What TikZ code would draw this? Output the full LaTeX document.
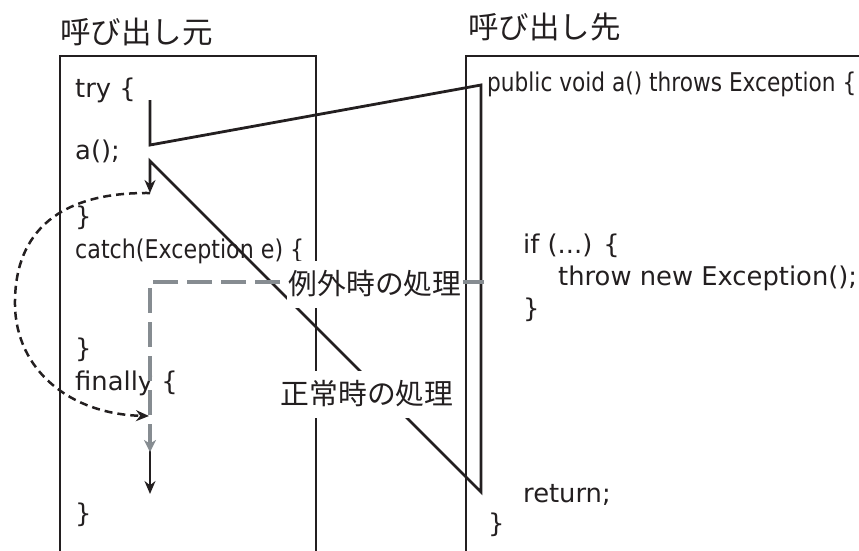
\documentclass[tikz,border=0pt]{standalone}
\usepackage{fontspec}
\usepackage{graphicx}
\setmainfont{DejaVu Sans}
\newfontfamily\jp{Noto Sans CJK JP}
\usetikzlibrary{arrows.meta}
\definecolor{ink}{HTML}{231F20}
\definecolor{exgray}{HTML}{868C91}
\begin{document}
\begin{tikzpicture}[x=1pt,y=-1pt,
  codetext/.style={anchor=base west, inner sep=0pt, font=\fontsize{25.8}{30}\selectfont, text=ink},
  hdrtext/.style={anchor=west, inner sep=0pt, font=\jp\fontsize{30.5}{34}\selectfont, text=ink},
  flowlabel/.style={fill=white, inner xsep=2pt, inner ysep=0pt, minimum height=47pt, font=\jp\fontsize{28.8}{32}\selectfont, text=ink},
  boxline/.style={draw=ink, line width=2.9pt},
  flowline/.style={draw=ink, line width=2.8pt, line join=miter},
  jumpline/.style={draw=ink, line width=2.5pt, dash pattern=on 8pt off 5pt},
  exline/.style={draw=exgray, line width=3.3pt, dash pattern=on 25pt off 9pt},
  tip/.style={-{Stealth[length=13pt,width=11pt]}},
]
\useasboundingbox (0,0) rectangle (859,550);

% titles
\node[hdrtext] (t1) at (60,32) {呼び出し元};
\node[hdrtext] (t2) at (468,27) {呼び出し先};

% frames
\draw[boxline] (60,553) -- (60,56) -- (316,56) -- (316,553);
\draw[boxline] (466,553) -- (466,56) -- (865,56);

% caller code
\node[codetext] (ltry) at (75,97) {try \{};
\node[codetext] (lcall) at (75,159) {a();};
\node[codetext] (lend1) at (75,225) {\}};
\node[codetext] (lcatch) at (75,258) {\scalebox{0.86}[1]{catch(Exception e) \{}};
\node[codetext] (lend2) at (75,357) {\}};
\node[codetext] (lfin) at (75,390) {finally \{};
\node[codetext] (lend3) at (75,522) {\}};

% callee code
\node[codetext] (rdecl) at (487,91) {\scalebox{0.84}[1]{public void a() throws Exception \{}};
\node[codetext] (rif) at (523,253) {if (...) \{};
\node[codetext] (rthrow) at (558,285) {throw new Exception();};
\node[codetext] (rend1) at (523,317) {\}};
\node[codetext] (rret) at (523,502) {return;};
\node[codetext] (rend2) at (488,532) {\}};

% flow points
\coordinate (tryA) at (150,100);
\coordinate (callB) at (150,145);
\coordinate (entry) at (481,85);
\coordinate (exitR) at (481,492);
\coordinate (retA) at (150,161);
\coordinate (after) at (150,193);
\coordinate (fin) at (149,416);
\coordinate (thr) at (484,282);
\coordinate (exc) at (150,282);
\coordinate (exend) at (150,452);
\coordinate (nstart) at (150,447);
\coordinate (nend) at (150,494);

\draw[flowline, tip] (tryA) -- (callB) -- (entry) -- (exitR) -- (retA) -- (after);
\draw[jumpline, tip] (after) .. controls (50,192) and (14,240) .. (15,305)
  .. controls (16,370) and (70,414) .. (fin);
\draw[flowline, tip] (nstart) -- (nend);
\draw[exline, -{Stealth[length=12pt,width=12pt,inset=3.5pt]}] (thr) -- (exc) -- (exend);

% labels
\node[flowlabel] (lbEx) at (375,284) {例外時の処理};
\node[flowlabel] (lbOk) at (367,394) {正常時の処理};
\end{tikzpicture}
\end{document}
